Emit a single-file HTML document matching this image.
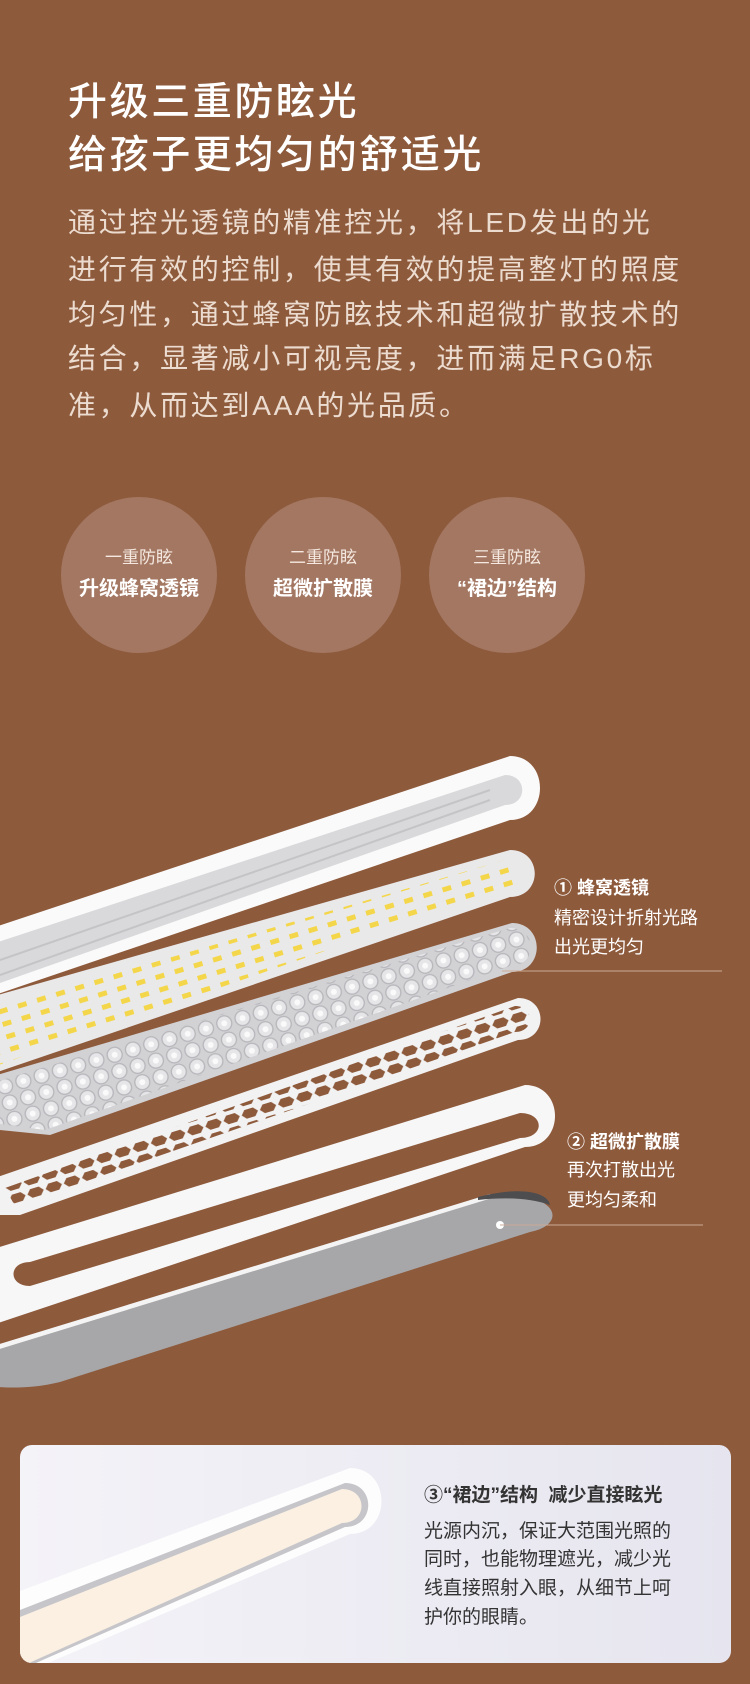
<!DOCTYPE html>
<html><head><meta charset="utf-8"><style>
body{margin:0;width:750px;height:1684px;background:#8e5a3c;position:relative;overflow:hidden;font-family:"Liberation Sans","Noto Sans CJK SC",sans-serif}
.t{position:absolute;left:68px;color:#fff;font-size:39px;line-height:46px;font-weight:500;letter-spacing:2.6px;white-space:nowrap}
.b{position:absolute;left:68px;color:#ecdcd0;font-size:28px;line-height:30px;letter-spacing:2.7px;white-space:nowrap}
.c{position:absolute;width:156px;height:156px;border-radius:50%;background:#a47762;color:#fff;text-align:center}
.c .s{position:absolute;top:46px;width:100%;font-size:17px;color:#f4e8e0}
.c .m{position:absolute;top:75px;width:100%;font-size:20px;font-weight:bold}
.l{position:absolute;color:#fff;font-size:18px;line-height:30px;white-space:nowrap}
.l b{font-weight:bold}
.card{position:absolute;left:20px;top:1445px;width:711px;height:218px;border-radius:12px;background:linear-gradient(90deg,#f4f3f8,#e6e5ef);overflow:hidden}
.ct{position:absolute;left:404px;color:#333;font-size:19px;line-height:29px;white-space:nowrap}
</style></head><body>
<div class="t" style="top:80px">升级三重防眩光</div>
<div class="t" style="top:133px">给孩子更均匀的舒适光</div>
<div class="b" style="top:208px">通过控光透镜的精准控光，将LED发出的光</div>
<div class="b" style="top:255px">进行有效的控制，使其有效的提高整灯的照度</div>
<div class="b" style="top:300px">均匀性，通过蜂窝防眩技术和超微扩散技术的</div>
<div class="b" style="top:344px">结合，显著减小可视亮度，进而满足RG0标</div>
<div class="b" style="top:391px">准，从而达到AAA的光品质。</div>

<div class="c" style="left:61px;top:497px"><div class="s">一重防眩</div><div class="m">升级蜂窝透镜</div></div>
<div class="c" style="left:245px;top:497px"><div class="s">二重防眩</div><div class="m">超微扩散膜</div></div>
<div class="c" style="left:429px;top:497px"><div class="s">三重防眩</div><div class="m">“裙边”结构</div></div>

<svg width="750" height="1440" style="position:absolute;left:0;top:0" viewBox="0 0 750 1440">
<defs>
<pattern id="led" width="20" height="13" patternUnits="userSpaceOnUse" patternTransform="rotate(-17)"><rect x="3" y="3" width="9" height="5" fill="#f4d64a"/></pattern>
<pattern id="lens" width="19" height="17" patternUnits="userSpaceOnUse" patternTransform="rotate(-16)"><circle cx="9.5" cy="8.5" r="7.5" fill="#e6e6e9" stroke="#b6b6ba" stroke-width="1.3"/><circle cx="9.5" cy="8.5" r="3" fill="#fafafa"/></pattern>
<pattern id="hex" width="19" height="13" patternUnits="userSpaceOnUse" patternTransform="rotate(-17)"><polygon points="4,2 13,2 17,6.5 13,11 4,11 0,6.5" fill="#8e5a3c"/></pattern>
</defs>
<!-- bottom cover -->
<path d="M-20,1353 L490,1196 C560,1190 568,1225 530,1232 L60,1382 C20,1392 -20,1386 -20,1383 Z" fill="#a7a7a9"/>
<path d="M-20,1350 L490,1194 L492,1198 L-20,1355 Z" fill="#f4f4f4"/>
<path d="M478,1197 C520,1186 548,1192 550,1205 C530,1198 505,1197 478,1200 Z" fill="#4d4d4f"/>
<circle cx="500" cy="1225" r="4" fill="#fff"/>
<!-- skirt ring -->
<path d="M-20,1253 L525,1085 C565,1085 565,1147 525,1147 L-20,1329 Z" fill="#f7f7f7"/>
<path d="M30,1262 L520,1113 C545,1113 545,1138 520,1138 L30,1286 C8,1286 8,1262 30,1262 Z" fill="#8e5a3c"/>
<!-- honeycomb -->
<path d="M-20,1183 L518,998 C548,998 548,1040 518,1040 L20,1215 L-20,1215 Z" fill="#f2f2f2"/>
<path d="M5,1188 L515,1006 C535,1006 535,1032 515,1032 L15,1206 Z" fill="url(#hex)"/>
<!-- lens -->
<path d="M-20,1080 L512,923 C545,923 545,972 512,972 L50,1135 L-20,1128 Z" fill="#d2d2d5"/>
<path d="M-15,1085 L510,928 C538,928 538,966 510,966 L45,1130 L-15,1122 Z" fill="url(#lens)"/>
<!-- LED board -->
<path d="M-20,1000 L510,850 C543,850 543,897 510,897 L-20,1078 Z" fill="#e9e9ea"/>
<path d="M-10,1010 L505,860 C525,860 525,888 505,888 L-10,1068 Z" fill="url(#led)"/>
<!-- housing -->
<path d="M-20,932 L510,756 C550,756 550,820 510,820 L-20,1000 Z" fill="#fafafa"/>
<path d="M-20,948 L505,775 C528,775 528,805 505,805 L-20,990 Z" fill="#d9d9db"/>
<g stroke="#c4c4c6" stroke-width="2"><line x1="0" y1="960" x2="490" y2="790"/><line x1="0" y1="975" x2="490" y2="800"/></g>
<!-- leader lines -->
<line x1="502" y1="971" x2="722" y2="971" stroke="#c9a996" stroke-width="1"/>
<line x1="500" y1="1225" x2="703" y2="1225" stroke="#c9a996" stroke-width="1"/>
</svg>

<div class="l" style="left:554px;top:873px"><b>① 蜂窝透镜</b></div>
<div class="l" style="left:554px;top:903px">精密设计折射光路</div>
<div class="l" style="left:554px;top:932px">出光更均匀</div>
<div class="l" style="left:567px;top:1127px"><b>② 超微扩散膜</b></div>
<div class="l" style="left:567px;top:1155px">再次打散出光</div>
<div class="l" style="left:567px;top:1185px">更均匀柔和</div>

<div class="card">
<svg width="711" height="218" style="position:absolute;left:0;top:0">
<path d="M0,146 L330,23 C372,23 372,89 330,89 L0,230 Z" fill="#fdfdfd"/>
<path d="M0,165 L325,38 C356,38 356,82 325,82 L0,225 Z" fill="#c6c6ca"/>
<path d="M0,172 L322,44 C348,44 348,78 322,78 L0,222 Z" fill="#fbf0e2"/>
</svg>
<div class="ct" style="top:36px;font-weight:bold">③“裙边”结构&nbsp; 减少直接眩光</div>
<div class="ct" style="top:72px">光源内沉，保证大范围光照的</div>
<div class="ct" style="top:100px">同时，也能物理遮光，减少光</div>
<div class="ct" style="top:129px">线直接照射入眼，从细节上呵</div>
<div class="ct" style="top:158px">护你的眼睛。</div>
</div>
</body></html>
